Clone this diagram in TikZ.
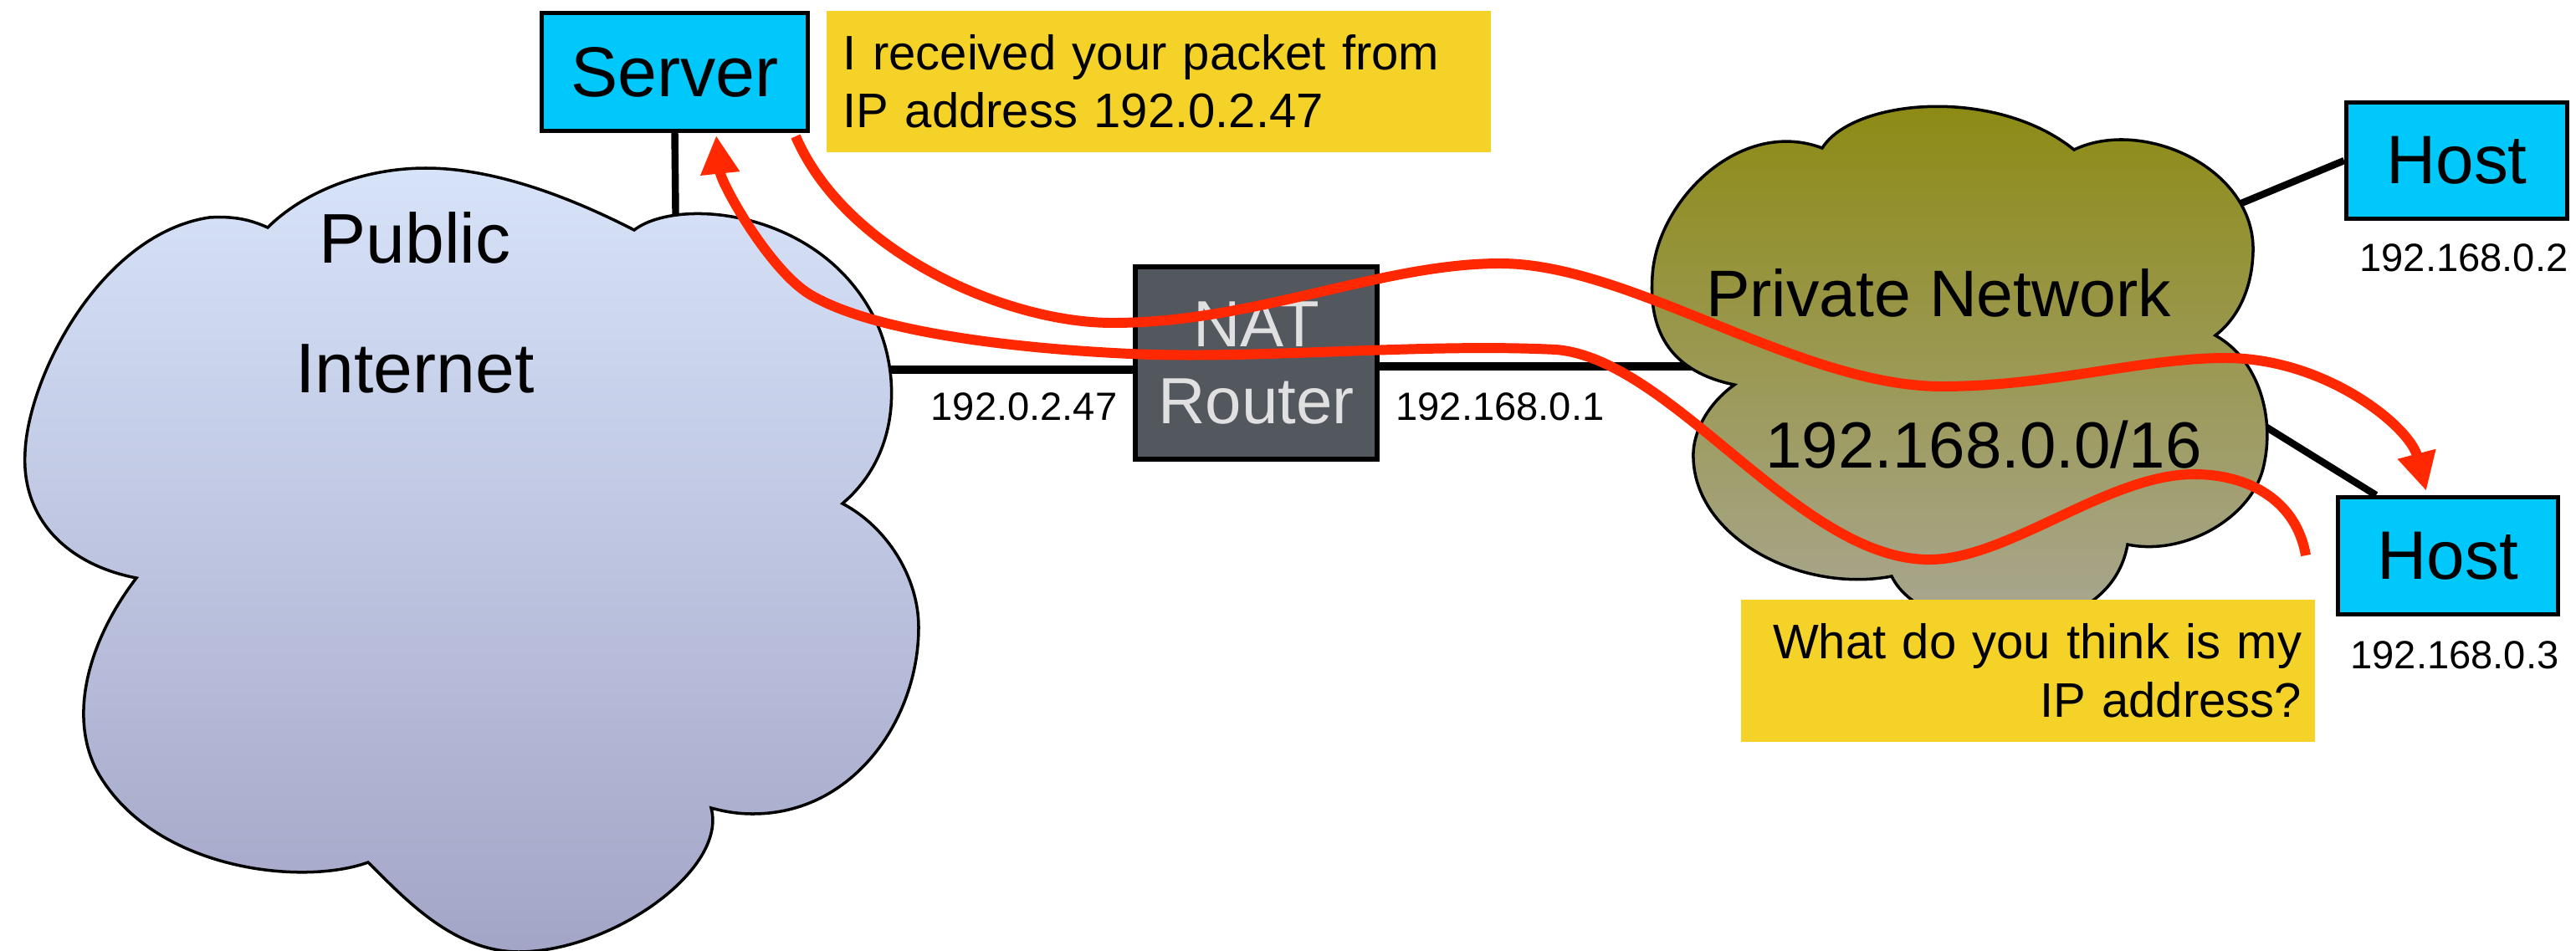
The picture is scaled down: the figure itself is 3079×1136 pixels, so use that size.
\documentclass[tikz,border=0pt]{standalone}
\usepackage{fontspec}
\setmainfont{Liberation Sans}
\usetikzlibrary{arrows.meta}

\definecolor{hostcyan}{RGB}{0,200,250}
\definecolor{noteyellow}{RGB}{245,210,40}
\definecolor{routergray}{RGB}{83,87,94}
\definecolor{routertext}{RGB}{224,224,224}
\definecolor{packetred}{RGB}{255,40,0}
\definecolor{pubtop}{RGB}{215,227,249}
\definecolor{pubbot}{RGB}{163,165,198}
\definecolor{privtop}{RGB}{140,138,16}
\definecolor{privbot}{RGB}{170,168,152}

\begin{document}
\begin{tikzpicture}[x=0.01cm, y=-0.01cm,
  devbox/.style={draw=black, line width=1.45pt, fill=hostcyan, inner sep=0pt},
  wire/.style={draw=black, line width=2.4pt},
  cloudline/.style={draw=black, line width=1pt},
  cloudtext/.style={anchor=base, inner sep=0pt},
  note/.style={fill=noteyellow, anchor=north west, inner ysep=0pt,
    font=\fontsize{16.5pt}{19.9pt}\selectfont},
  addr/.style={anchor=base, inner sep=0pt, font=\fontsize{13.4pt}{16pt}\selectfont},
  packet/.style={draw=packetred, line width=3.4pt,
    -{Triangle[length=13pt,width=12.5pt]}}
]
\useasboundingbox (0,0) rectangle (3079,1136);

% devices
\node[devbox, minimum width=3.18cm, minimum height=1.41cm,
  font=\fontsize{24pt}{28pt}\selectfont] (server) at (806.5,86) {Server};
\node[devbox, minimum width=2.64cm, minimum height=1.39cm,
  font=\fontsize{23.3pt}{28pt}\selectfont] (host1) at (2936.5,192) {Host};
\node[devbox, minimum width=2.63cm, minimum height=1.40cm,
  font=\fontsize{23.3pt}{28pt}\selectfont] (host2) at (2926,664.5) {Host};
\node[draw=black, line width=1.7pt, fill=routergray, text=routertext,
  minimum width=2.89cm, minimum height=2.30cm, inner sep=0pt, align=center,
  font=\fontsize{22.2pt}{26.2pt}\selectfont] (nat) at (1501.5,434) {NAT\\Router};

% points inside the clouds where the links end
\coordinate (pubN) at (808,300);
\coordinate (pubE) at (1040,442);
\coordinate (privW) at (2040,438);
\coordinate (privNE) at (2650,255);
\coordinate (privE) at (2690,499);
\coordinate (h2top) at (2840,592);

% links
\draw[wire] (server.south) -- (pubN);
\draw[wire, line width=2.65pt] (pubE) -- (pubE -| nat.west);
\draw[wire, line width=2.65pt] (privW) -- (privW -| nat.east);
\draw[wire] (privNE) -- (host1.west);
\draw[wire] (privE) -- (h2top);

% public internet cloud
\draw[cloudline, top color=pubtop, bottom color=pubbot]
  (320,272)
  .. controls (360,232) and (430,201) .. (509,201)
  .. controls (590,201) and (680,235) .. (758,275)
  .. controls (810,235) and (980,250) .. (1045,380)
  .. controls (1075,440) and (1080,540) .. (1007,602)
  .. controls (1060,630) and (1098,690) .. (1098,750)
  .. controls (1098,860) and (1020,973) .. (900,973)
  .. controls (880,973) and (865,970) .. (850,966)
  .. controls (870,1040) and (730,1138) .. (620,1138)
  .. controls (540,1138) and (480,1070) .. (440,1031)
  .. controls (360,1060) and (180,1040) .. (115,920)
  .. controls (80,850) and (110,760) .. (163,691)
  .. controls (80,675) and (25,620) .. (30,540)
  .. controls (34,450) and (120,280) .. (250,260)
  .. controls (280,258) and (300,263) .. (320,272)
  -- cycle;
\node[cloudtext, font=\fontsize{23.9pt}{28pt}\selectfont] (pubA) at (496,314) {Public};
\node[cloudtext, font=\fontsize{23.9pt}{28pt}\selectfont] (pubB) at (496,469) {Internet};

% private network cloud
\draw[cloudline, top color=privtop, bottom color=privbot]
  (2178,177)
  .. controls (2215,118) and (2385,103) .. (2479,179)
  .. controls (2560,140) and (2695,200) .. (2693,300)
  .. controls (2692,345) and (2675,380) .. (2648,401)
  .. controls (2700,430) and (2720,500) .. (2705,560)
  .. controls (2690,620) and (2610,665) .. (2543,651)
  .. controls (2520,780) and (2300,770) .. (2261,689)
  .. controls (2150,710) and (2020,640) .. (2024,540)
  .. controls (2026,510) and (2045,480) .. (2073,460)
  .. controls (2000,445) and (1970,400) .. (1975,330)
  .. controls (1980,240) and (2080,140) .. (2178,177)
  -- cycle;
\node[cloudtext, font=\fontsize{22.4pt}{27pt}\selectfont] (privA) at (2317,378) {Private Network};
\node[cloudtext, font=\fontsize{22.2pt}{27pt}\selectfont] (privB) at (2371,559) {192.168.0.0/16};

% address labels
\node[addr] (ipPub) at (1224,502) {192.0.2.47};
\node[addr] (ipGw) at (1793,502) {192.168.0.1};
\node[addr] (ipH1) at (2945,324) {192.168.0.2};
\node[addr] (ipH2) at (2934,799) {192.168.0.3};

% speech notes
\node[note, minimum height=1.69cm, text width=7.54cm, inner xsep=0.2cm, align=left]
  (note1) at (987,12) {I received your packet from\\IP address 192.0.2.47};
\node[note, minimum height=1.70cm, text width=6.54cm, inner xsep=0.16cm, align=right]
  (note2) at (2080,716) {What do you think is my\\IP address?};

% packet paths
\coordinate (srvOut) at (951,163);
\coordinate (h2In) at (2900,587);
\coordinate (h2Out) at (2756,664);
\coordinate (srvIn) at (856,162);

\draw[packet] (srvOut)
  .. controls (1010,300) and (1200,386) .. (1330,386)
  .. controls (1500,386) and (1650,315) .. (1793,315)
  .. controls (1950,315) and (2150,462) .. (2321,462)
  .. controls (2450,462) and (2560,428) .. (2660,428)
  .. controls (2780,428) and (2880,510) .. (h2In);

\draw[packet] (h2Out)
  .. controls (2745,600) and (2690,567) .. (2622,567)
  .. controls (2520,567) and (2400,669) .. (2306,669)
  .. controls (2150,669) and (2000,430) .. (1860,418)
  .. controls (1700,410) and (1500,430) .. (1351,423)
  .. controls (1200,416) and (1040,395) .. (968,352)
  .. controls (920,323) and (862,220) .. (srvIn);

\end{tikzpicture}
\end{document}
